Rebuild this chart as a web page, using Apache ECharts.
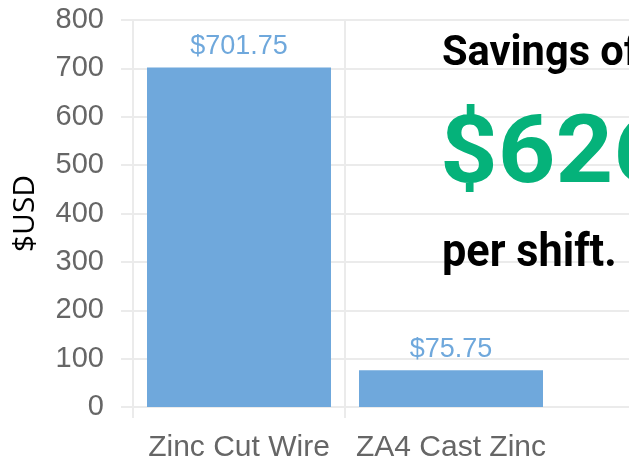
<!DOCTYPE html>
<html>
<head>
    <meta charset="utf-8">
    <script src="https://cdn.jsdelivr.net/npm/echarts@6/dist/echarts.min.js"></script>
    <style>
        html, body { margin: 0; padding: 0; background: #fff; }
    </style>
</head>
<body>
<div id="main" style="width: 629px;height:459px;"></div>
<script type="text/javascript">
    // data
    var categories = ['Zinc Cut Wire', 'ZA4 Cast Zinc', ''];
    var costs = [701.75, 75.75, null];
    var yTicks = [0, 100, 200, 300, 400, 500, 600, 700, 800];
    var savingsText = ['Savings of', '$626.00', 'per shift.'];

    var gridColor = '#EBEBEB';
    var barColor = '#6FA8DC';
    var boldFont = "Roboto, 'DejaVu Sans', sans-serif";

    var myChart = echarts.init(document.getElementById('main'));

    myChart.setOption({
        animation: false,
        grid: {left: 133, top: 20, width: 636, bottom: 52, outerBoundsMode: 'none', containLabel: false},
        xAxis: {
            type: 'category',
            data: categories,
            boundaryGap: true,
            axisLine: {show: false},
            axisTick: {
                show: true, length: 11,
                interval: function (i) { return i < 2; },
                lineStyle: {color: gridColor, width: 2}
            },
            splitLine: {
                show: true,
                interval: function (i) { return i < 2; },
                lineStyle: {color: gridColor, width: 2}
            },
            axisLabel: {
                color: '#666', fontSize: 30, margin: 26,
                interval: 0,
                hideOverlap: false,
                fontFamily: "'Liberation Sans', Arial, sans-serif"
            }
        },
        yAxis: {
            type: 'value',
            min: yTicks[0],
            max: yTicks[yTicks.length - 1],
            interval: 100,
            name: '$USD',
            nameLocation: 'middle',
            nameRotate: 90,
            nameGap: 93,
            nameTextStyle: {color: '#000', fontSize: 30, fontFamily: "'Open Sans', sans-serif"},
            axisLine: {show: false},
            axisTick: {show: true, length: 12, lineStyle: {color: gridColor, width: 2}},
            splitLine: {show: true, lineStyle: {color: gridColor, width: 2}},
            axisLabel: {
                color: '#666', fontSize: 29, margin: 29,
                padding: [6, 0, 0, 0],
                fontFamily: "'Liberation Sans', Arial, sans-serif"
            }
        },
        series: [{
            type: 'bar',
            data: costs,
            barWidth: 184,
            itemStyle: {color: barColor},
            label: {
                show: true,
                position: 'top',
                distance: 7,
                color: barColor,
                fontSize: 27,
                fontFamily: "'Liberation Sans', Arial, sans-serif",
                formatter: function (p) { return '$' + p.value.toFixed(2); }
            }
        }],
        graphic: [
            {type: 'text', x: 442, y: 75, scaleX: 0.99, z: 100,
                style: {text: savingsText[0], font: 'bold 42px ' + boldFont, fill: '#000', verticalAlign: 'bottom'}},
            {type: 'text', x: 440, y: 206, scaleX: 1.06, z: 100,
                style: {text: savingsText[1], font: 'bold 95px ' + boldFont, fill: '#05B27A', verticalAlign: 'bottom'}},
            {type: 'text', x: 442, y: 278, scaleX: 0.92, z: 100,
                style: {text: savingsText[2], font: 'bold 47px ' + boldFont, fill: '#000', verticalAlign: 'bottom'}}
        ]
    });
</script>
</body>
</html>
